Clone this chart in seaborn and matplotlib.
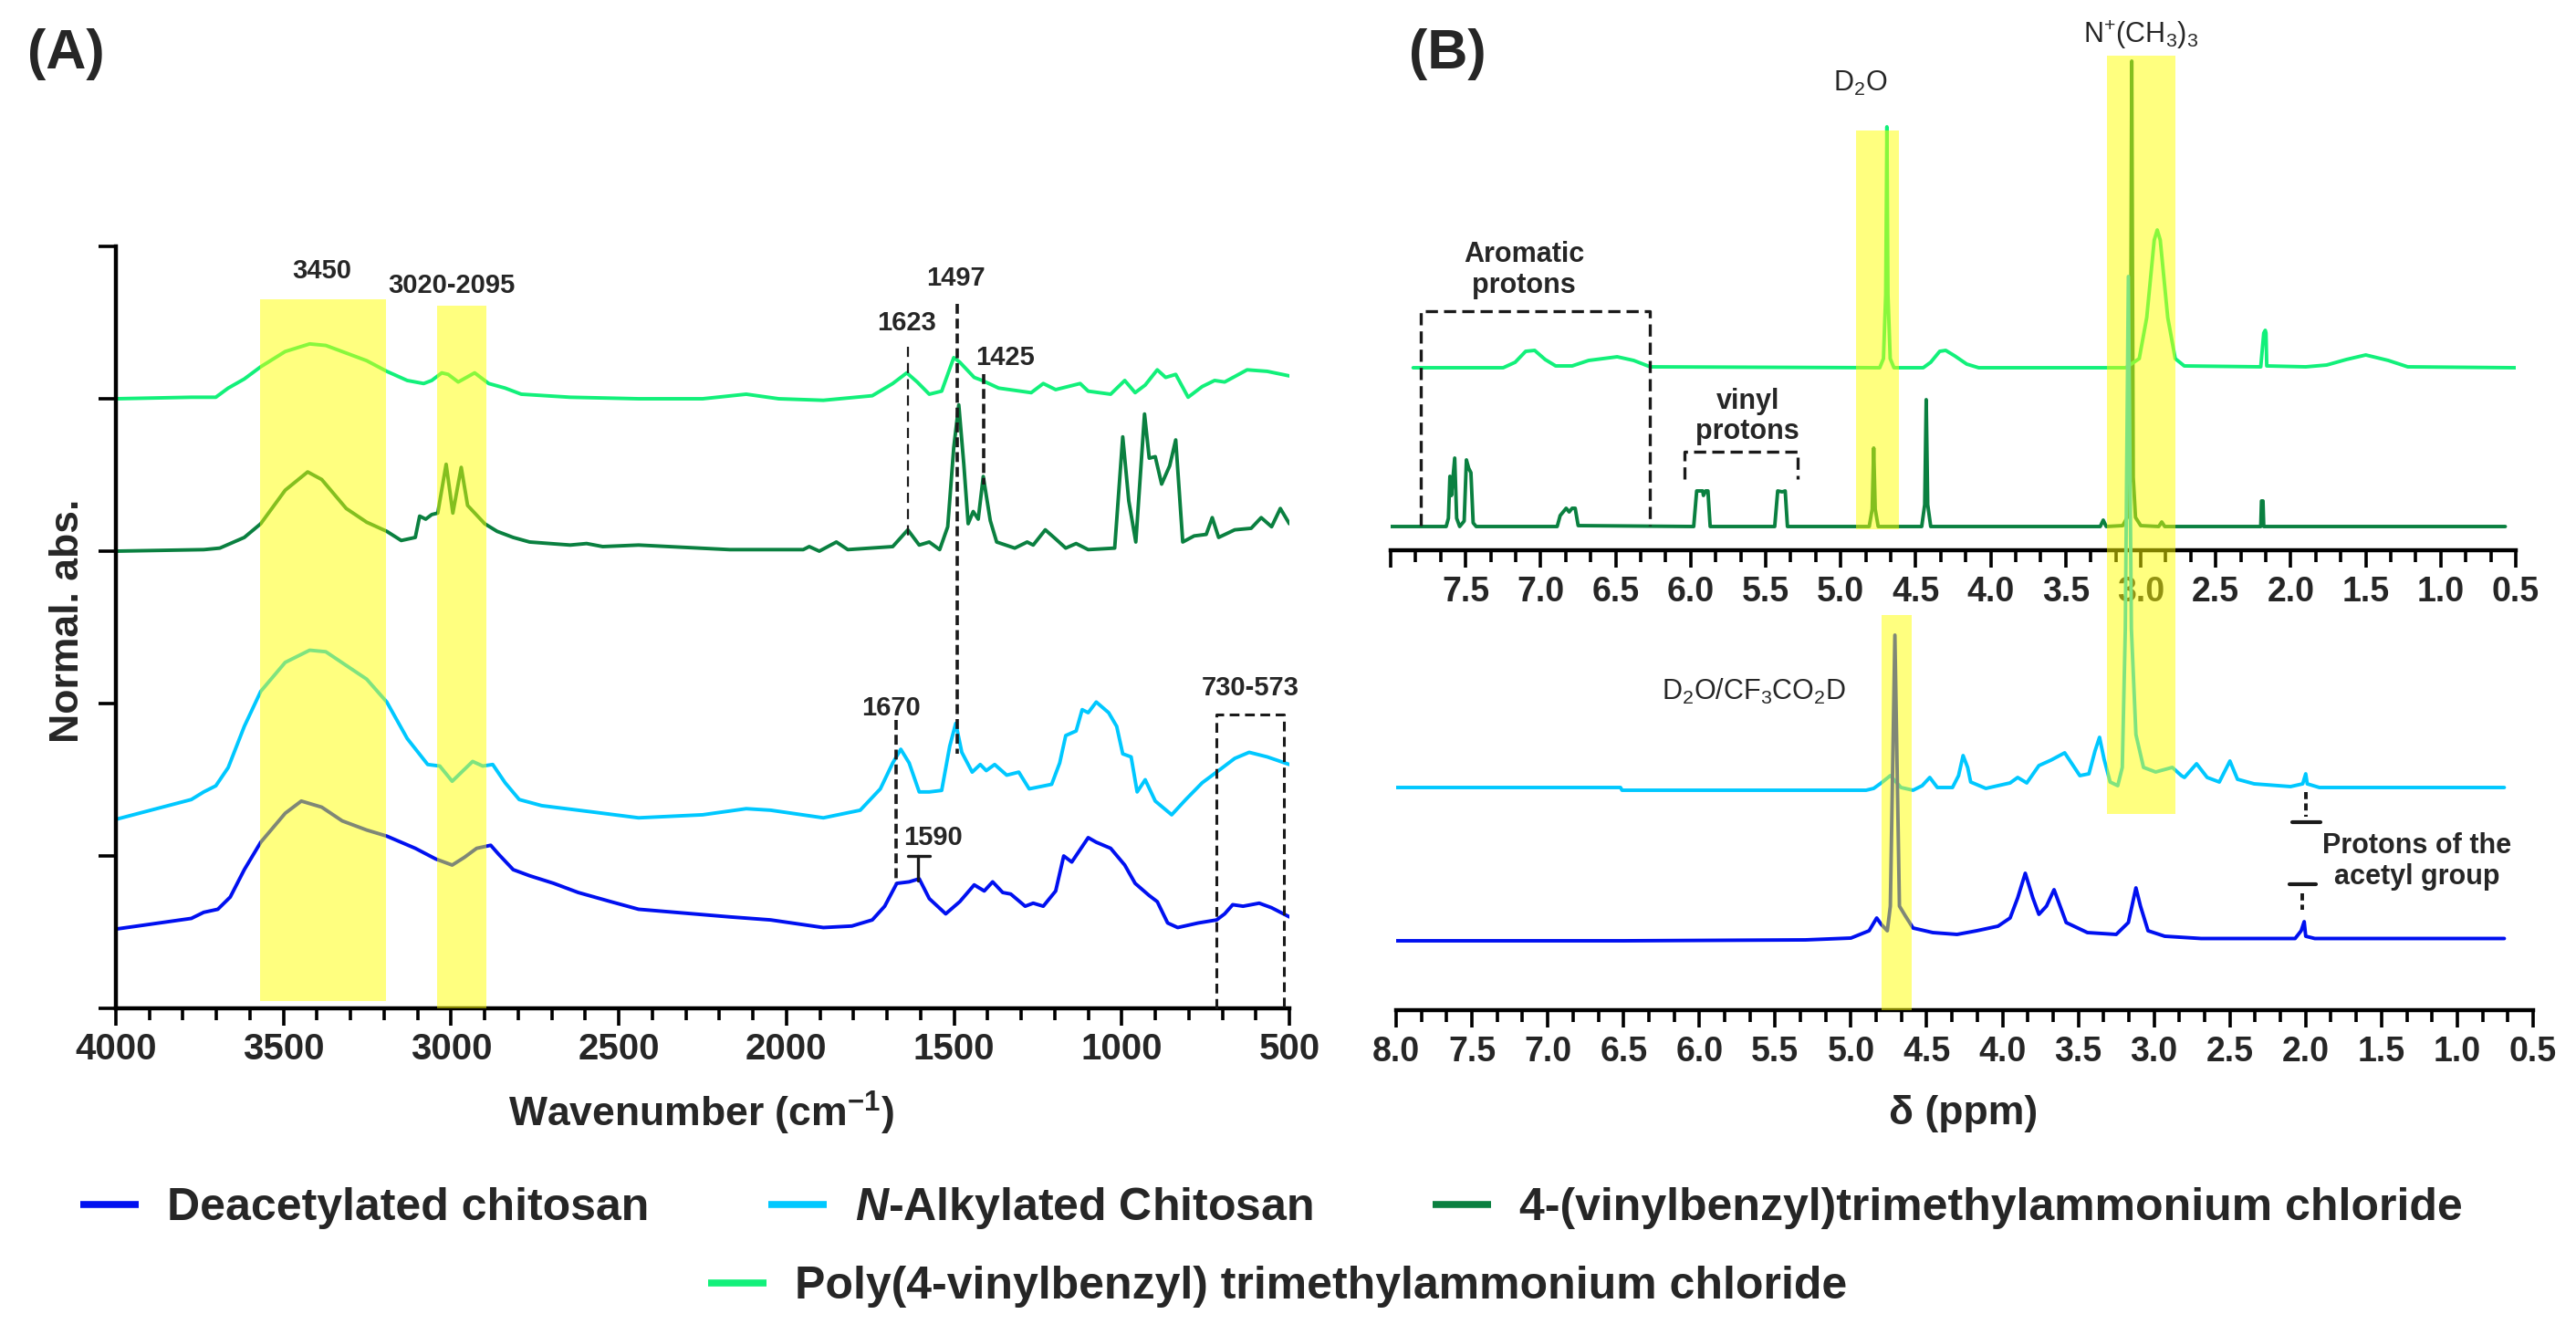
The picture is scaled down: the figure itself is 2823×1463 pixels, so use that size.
import matplotlib.pyplot as plt
from matplotlib.patches import Rectangle
from matplotlib.lines import Line2D
from matplotlib.ticker import MultipleLocator, AutoMinorLocator
import seaborn as sns

# ---------------- colours ----------------
C_DEAC = "#0010F0"   # Deacetylated chitosan
C_NALK = "#00C8FF"   # N-Alkylated chitosan
C_VBTAC = "#0A8040"  # 4-(vinylbenzyl)trimethylammonium chloride
C_POLY = "#12F07A"   # Poly(4-vinylbenzyl) trimethylammonium chloride
YELLOW = "#FFFF00"

# ---------------- (A) FTIR data (wavenumber, normalised abs. + offset) ----------------
ftir_poly_x = [4000, 3775, 3702, 3665, 3617, 3568, 3495, 3422, 3374, 3313,
               3252, 3192, 3131, 3082, 3058, 3028, 3009, 2979, 2930, 2888,
               2839, 2791, 2645, 2441, 2250, 2120, 2023, 1890, 1744, 1683,
               1641, 1610, 1574, 1537, 1501, 1483, 1440, 1416, 1367, 1270,
               1234, 1197, 1124, 1100, 1033, 991, 960, 930, 894, 869,
               839, 802, 760, 723, 693, 626, 566, 500]
ftir_poly_y = [4.00, 4.01, 4.01, 4.07, 4.13, 4.21, 4.31, 4.36, 4.35, 4.30,
               4.25, 4.18, 4.12, 4.10, 4.12, 4.17, 4.16, 4.11, 4.17, 4.10,
               4.07, 4.03, 4.01, 4.00, 4.00, 4.03, 4.00, 3.99, 4.02, 4.10,
               4.17, 4.11, 4.03, 4.05, 4.27, 4.24, 4.14, 4.12, 4.07, 4.04,
               4.10, 4.06, 4.10, 4.05, 4.03, 4.12, 4.04, 4.09, 4.19, 4.14,
               4.16, 4.01, 4.08, 4.12, 4.11, 4.19, 4.18, 4.15]

ftir_vbtac_x = [4000, 3738, 3690, 3617, 3568, 3495, 3428, 3386, 3313, 3252,
                3192, 3149, 3107, 3094, 3076, 3058, 3040, 3015, 2995, 2970,
                2951, 2900, 2863, 2815, 2766, 2645, 2596, 2548, 2441, 2169,
                1950, 1932, 1902, 1851, 1817, 1683, 1638, 1604, 1574, 1543,
                1519, 1501, 1486, 1471, 1458, 1443, 1428, 1413, 1392, 1373,
                1319, 1282, 1264, 1228, 1197, 1167, 1136, 1100, 1021, 997,
                979, 958, 932, 918, 900, 881, 857, 839, 818, 784,
                748, 730, 711, 663, 614, 584, 553, 527, 500]
ftir_vbtac_y = [3.00, 3.01, 3.02, 3.09, 3.18, 3.40, 3.52, 3.47, 3.28, 3.19,
                3.13, 3.07, 3.09, 3.23, 3.21, 3.24, 3.25, 3.57, 3.25, 3.55,
                3.30, 3.18, 3.13, 3.09, 3.06, 3.04, 3.05, 3.03, 3.04, 3.01,
                3.01, 3.03, 3.00, 3.06, 3.01, 3.03, 3.14, 3.04, 3.06, 3.01,
                3.16, 3.68, 3.96, 3.57, 3.18, 3.26, 3.21, 3.49, 3.20, 3.06,
                3.02, 3.06, 3.04, 3.14, 3.08, 3.02, 3.05, 3.01, 3.02, 3.75,
                3.33, 3.06, 3.90, 3.61, 3.62, 3.44, 3.56, 3.73, 3.06, 3.10,
                3.11, 3.22, 3.09, 3.14, 3.15, 3.22, 3.16, 3.28, 3.18]

ftir_nalk_x = [4000, 3775, 3738, 3702, 3665, 3617, 3568, 3495, 3422, 3374,
               3313, 3252, 3192, 3131, 3070, 3034, 2997, 2936, 2906, 2876,
               2839, 2797, 2730, 2584, 2441, 2250, 2120, 2047, 1890, 1780,
               1720, 1683, 1659, 1634, 1604, 1574, 1537, 1513, 1495, 1477,
               1446, 1422, 1404, 1379, 1343, 1307, 1276, 1209, 1185, 1167,
               1136, 1118, 1100, 1076, 1039, 1015, 997, 972, 954, 930,
               900, 851, 809, 760, 711, 663, 620, 566, 500]
ftir_nalk_y = [1.24, 1.37, 1.42, 1.46, 1.58, 1.85, 2.08, 2.27, 2.35, 2.34,
               2.25, 2.16, 2.01, 1.77, 1.60, 1.59, 1.49, 1.62, 1.59, 1.60,
               1.48, 1.37, 1.33, 1.29, 1.25, 1.27, 1.31, 1.30, 1.25, 1.30,
               1.44, 1.61, 1.70, 1.61, 1.42, 1.42, 1.43, 1.72, 1.87, 1.68,
               1.55, 1.60, 1.56, 1.60, 1.53, 1.55, 1.44, 1.47, 1.61, 1.79,
               1.82, 1.96, 1.94, 2.01, 1.94, 1.85, 1.67, 1.65, 1.42, 1.50,
               1.36, 1.27, 1.37, 1.48, 1.56, 1.64, 1.68, 1.65, 1.60]

ftir_deac_x = [4000, 3775, 3738, 3696, 3659, 3617, 3568, 3495, 3447, 3386,
               3325, 3252, 3192, 3107, 3046, 2997, 2961, 2924, 2882, 2858,
               2815, 2766, 2694, 2621, 2524, 2441, 2169, 2047, 1890, 1805,
               1744, 1707, 1671, 1634, 1604, 1574, 1525, 1483, 1440, 1410,
               1385, 1355, 1331, 1288, 1264, 1234, 1197, 1173, 1149, 1100,
               1076, 1033, 991, 960, 918, 894, 863, 833, 772, 717,
               693, 669, 638, 590, 553, 500]
ftir_deac_y = [0.52, 0.59, 0.63, 0.65, 0.73, 0.91, 1.09, 1.28, 1.36, 1.32,
               1.23, 1.17, 1.13, 1.05, 0.98, 0.94, 0.99, 1.05, 1.07, 1.01,
               0.91, 0.87, 0.82, 0.76, 0.70, 0.65, 0.60, 0.58, 0.53, 0.54,
               0.58, 0.67, 0.82, 0.83, 0.85, 0.72, 0.62, 0.70, 0.81, 0.77,
               0.83, 0.76, 0.75, 0.67, 0.69, 0.67, 0.77, 1.00, 0.96, 1.12,
               1.09, 1.05, 0.94, 0.82, 0.74, 0.70, 0.56, 0.53, 0.56, 0.58,
               0.62, 0.68, 0.67, 0.69, 0.66, 0.60]

ftir_ticks = [4000, 3500, 3000, 2500, 2000, 1500, 1000, 500]
ftir_tick_labels = ["4000", "3500", "3000", "2500", "2000", "1500", "1000", "500"]

# ---------------- (B) 1H NMR data (ppm, intensity + offset) ----------------
nmr_poly_x = [7.85, 7.25, 7.17, 7.10, 7.04, 6.97, 6.90, 6.79, 6.68, 6.49,
              6.38, 6.27, 4.74, 4.715, 4.70, 4.692, 4.685, 4.67, 4.645, 4.45,
              4.40, 4.34, 4.30, 4.24, 4.16, 4.08, 3.10, 3.01, 2.96, 2.91,
              2.89, 2.87, 2.82, 2.77, 2.71, 2.20, 2.18, 2.17, 2.165, 2.16,
              1.90, 1.76, 1.63, 1.50, 1.35, 1.22, 0.50]
nmr_poly_y = [20.0, 20.0, 20.6, 21.8, 21.9, 20.9, 20.2, 20.2, 20.8, 21.2,
              20.8, 20.1, 20.0, 21.0, 28.0, 46.4, 28.0, 21.0, 20.0, 20.0,
              20.6, 21.8, 21.9, 21.3, 20.4, 20.0, 20.0, 21.0, 25.5, 34.0,
              35.1, 34.0, 25.5, 21.0, 20.2, 20.1, 23.8, 24.1, 23.8, 20.2,
              20.1, 20.3, 20.9, 21.4, 20.8, 20.1, 20.0]

nmr_vbtac_x = [8.00, 7.63, 7.615, 7.605, 7.595, 7.573, 7.56, 7.54, 7.51, 7.495,
               7.48, 7.465, 7.45, 7.43, 6.89, 6.87, 6.85, 6.83, 6.81, 6.79,
               6.77, 6.75, 5.98, 5.96, 5.92, 5.915, 5.90, 5.885, 5.87, 5.44,
               5.42, 5.39, 5.37, 5.355, 4.81, 4.79, 4.78, 4.77, 4.75, 4.46,
               4.44, 4.43, 4.42, 4.40, 3.27, 3.25, 3.23, 3.12, 3.09, 3.07,
               3.06, 3.05, 3.035, 3.00, 2.88, 2.86, 2.84, 2.20, 2.195, 2.185,
               2.18, 0.57]
nmr_vbtac_y = [2.6, 2.6, 3.5, 8.1, 6.0, 10.1, 3.5, 2.6, 3.2, 9.9,
               9.0, 8.5, 3.0, 2.6, 2.6, 3.8, 4.2, 4.6, 4.2, 4.6,
               4.6, 2.7, 2.6, 6.5, 6.5, 6.0, 6.5, 6.5, 2.6, 2.6,
               6.5, 6.4, 6.5, 2.6, 2.6, 4.5, 11.2, 4.5, 2.6, 2.6,
               5.0, 16.5, 5.0, 2.6, 2.6, 3.3, 2.6, 2.7, 3.6, 8.0,
               53.6, 8.0, 3.6, 2.7, 2.6, 3.1, 2.6, 2.6, 5.4, 5.4,
               2.6, 2.6]

nmr_nalk_x = [8.00, 6.52, 6.51, 4.90, 4.85, 4.80, 4.74, 4.67, 4.59, 4.53,
              4.48, 4.43, 4.33, 4.29, 4.26, 4.23, 4.21, 4.11, 3.95, 3.90,
              3.84, 3.76, 3.68, 3.59, 3.49, 3.43, 3.39, 3.36, 3.33, 3.29,
              3.24, 3.21, 3.19, 3.17, 3.15, 3.12, 3.07, 2.99, 2.88, 2.82,
              2.80, 2.72, 2.65, 2.57, 2.50, 2.45, 2.34, 2.10, 2.02, 2.00,
              1.99, 1.91, 0.69]
nmr_nalk_y = [24.4, 24.4, 24.1, 24.1, 24.3, 24.9, 25.7, 24.4, 24.1, 24.6,
              25.5, 24.4, 24.4, 25.7, 27.9, 26.6, 25.0, 24.3, 24.9, 25.5,
              24.9, 26.8, 27.4, 28.2, 25.7, 25.9, 28.4, 29.9, 27.5, 25.0,
              24.6, 26.6, 41.8, 80.4, 41.8, 30.2, 26.6, 26.1, 26.6, 25.7,
              25.5, 27.0, 25.5, 25.0, 27.3, 25.3, 24.8, 24.5, 24.8, 25.9,
              24.8, 24.4, 24.4]

nmr_deac_x = [8.00, 6.50, 5.30, 5.00, 4.88, 4.83, 4.80, 4.76, 4.74, 4.71,
              4.68, 4.64, 4.59, 4.46, 4.30, 4.17, 4.03, 3.95, 3.90, 3.85,
              3.80, 3.76, 3.71, 3.66, 3.62, 3.58, 3.44, 3.25, 3.17, 3.12,
              3.09, 3.04, 2.93, 2.69, 2.07, 2.03, 2.01, 2.00, 1.94, 0.69]
nmr_deac_y = [7.6, 7.6, 7.7, 7.9, 8.7, 10.1, 9.4, 8.7, 11.4, 41.1,
              11.4, 10.3, 9.0, 8.5, 8.3, 8.7, 9.2, 10.1, 12.3, 15.0,
              12.3, 10.5, 11.4, 13.2, 11.4, 9.6, 8.5, 8.3, 9.6, 13.4,
              11.4, 8.7, 8.1, 7.85, 7.85, 8.7, 9.7, 8.1, 7.85, 7.85]

nmr_ticks = [8.0, 7.5, 7.0, 6.5, 6.0, 5.5, 5.0, 4.5, 4.0, 3.5, 3.0, 2.5, 2.0, 1.5, 1.0, 0.5]
nmr_bottom_labels = ["8.0", "7.5", "7.0", "6.5", "6.0", "5.5", "5.0", "4.5",
                     "4.0", "3.5", "3.0", "2.5", "2.0", "1.5", "1.0", "0.5"]
nmr_top_labels = [""] + nmr_bottom_labels[1:]

legend_labels = ["Deacetylated chitosan", "$\\mathit{N}$-Alkylated Chitosan",
                 "4-(vinylbenzyl)trimethylammonium chloride",
                 "Poly(4-vinylbenzyl) trimethylammonium chloride"]

# ---------------- style ----------------
sns.set_theme(style="white")
plt.rcParams["font.family"] = ["Liberation Sans", "DejaVu Sans"]
plt.rcParams["font.weight"] = "bold"
plt.rcParams["axes.labelweight"] = "bold"
plt.rcParams["mathtext.fontset"] = "custom"
plt.rcParams["mathtext.default"] = "regular"
plt.rcParams["mathtext.rm"] = "Liberation Sans"
plt.rcParams["mathtext.it"] = "Liberation Sans:italic:bold"
plt.rcParams["mathtext.bf"] = "Liberation Sans:bold"

W, H = 2823, 1463
fig = plt.figure(figsize=(W / 100, H / 100), dpi=100)


def px_box(x0, y0, x1, y1):
    return [x0 / W, 1 - y1 / H, (x1 - x0) / W, (y1 - y0) / H]


ax_a = fig.add_axes(px_box(127, 270, 1413, 1105))
ax_bt = fig.add_axes(px_box(1524, 20, 2757, 603))
ax_bb = fig.add_axes(px_box(1530, 20, 2776, 1107))


def style_axes(ax, show_left):
    ax.patch.set_visible(False)
    ax.spines["top"].set_visible(False)
    ax.spines["right"].set_visible(False)
    ax.spines["left"].set_visible(show_left)
    for s in ["left", "bottom"]:
        ax.spines[s].set_linewidth(3.2)
        ax.spines[s].set_color("black")
    ax.tick_params(axis="x", which="major", bottom=True, direction="out",
                   length=14, width=2.6, color="black")
    ax.tick_params(axis="x", which="minor", bottom=True, direction="out",
                   length=9, width=2.6, color="black")
    ax.grid(False)


def bold_ticklabels(ax):
    for lab in ax.get_xticklabels():
        lab.set_fontweight("bold")


LW = 2.8

# ---------------- panel A ----------------
style_axes(ax_a, True)
for xs, ys, c in [(ftir_deac_x, ftir_deac_y, C_DEAC), (ftir_nalk_x, ftir_nalk_y, C_NALK),
                  (ftir_vbtac_x, ftir_vbtac_y, C_VBTAC), (ftir_poly_x, ftir_poly_y, C_POLY)]:
    sns.lineplot(x=xs, y=ys, ax=ax_a, color=c, linewidth=LW, sort=False,
                 estimator=None, legend=False)

ax_a.set_xlim(4000, 500)
ax_a.set_ylim(0, 5)
ax_a.set_xticks(ftir_ticks, ftir_tick_labels, fontweight="bold")
ax_a.xaxis.set_minor_locator(MultipleLocator(100))
ax_a.set_yticks([0, 1, 2, 3, 4, 5], [])
ax_a.tick_params(axis="y", left=True, direction="out", length=14, width=2.6, color="black")
ax_a.tick_params(axis="x", labelsize=29, pad=5)
bold_ticklabels(ax_a)

ax_a.set_xlabel("Wavenumber (cm$^{-1}$)", fontsize=32, fontweight="bold")
ax_a.xaxis.set_label_coords(0.499, -0.1377)
ax_a.xaxis.label.set_va("center")
ax_a.set_ylabel("Normal. abs.", fontsize=32, fontweight="bold")
ax_a.yaxis.set_label_coords(-0.041, 0.509)
ax_a.yaxis.label.set_va("center")

ax_a.add_patch(Rectangle((3195, 0.05), 375, 4.60, color=YELLOW, alpha=0.5, lw=0, zorder=5))
ax_a.add_patch(Rectangle((2894, 0.0), 147, 4.61, color=YELLOW, alpha=0.5, lw=0, zorder=5))

fa = dict(fontsize=21, fontweight="bold", ha="center", va="center", zorder=7)
ax_a.text(3386, 4.84, "3450", **fa)
ax_a.text(3000, 4.74, "3020-2095", **fa)
ax_a.text(1641, 4.50, "1623", **fa)
ax_a.text(1495, 4.79, "1497", **fa)
ax_a.text(1349, 4.27, "1425", **fa)
ax_a.text(1689, 1.97, "1670", **fa)
ax_a.text(1562, 1.12, "1590", **fa)
ax_a.text(617, 2.10, "730-573", **fa)

ax_a.plot([1638, 1638], [4.34, 3.09], color="k", lw=1.6, ls=(0, (5, 3)), zorder=6)
ax_a.plot([1491, 1491], [4.62, 1.67], color="k", lw=2.6, ls=(0, (3, 1.5)), zorder=6)
ax_a.plot([1413, 1413], [4.16, 3.44], color="k", lw=2.6, ls=(0, (3, 1.5)), zorder=6)
ax_a.plot([1673, 1673], [1.89, 0.82], color="k", lw=2.6, ls=(0, (3, 1.5)), zorder=6)
ax_a.plot([1638, 1571], [1.0, 1.0], color="k", lw=2.4, zorder=6)
ax_a.plot([1608, 1608], [1.0, 0.84], color="k", lw=2.4, zorder=6)
ax_a.plot([717, 717, 517, 517], [0.0, 1.93, 1.93, 0.0], color="k", lw=2.2,
          ls=(0, (3.5, 2)), zorder=6, clip_on=False)

# ---------------- panel B top ----------------
style_axes(ax_bt, False)
sns.lineplot(x=nmr_vbtac_x, y=nmr_vbtac_y, ax=ax_bt, color=C_VBTAC, linewidth=LW,
             sort=False, estimator=None, legend=False)
sns.lineplot(x=nmr_poly_x, y=nmr_poly_y, ax=ax_bt, color=C_POLY, linewidth=LW,
             sort=False, estimator=None, legend=False)
ax_bt.set_xlim(8.0, 0.5)
ax_bt.set_ylim(0, 58.3)
ax_bt.set_yticks([])
ax_bt.set_xticks(nmr_ticks, nmr_top_labels, fontweight="bold")
ax_bt.xaxis.set_minor_locator(AutoMinorLocator(3))
ax_bt.tick_params(axis="x", labelsize=27, pad=6.5)
bold_ticklabels(ax_bt)
ax_bt.set_xlabel("")
ax_bt.set_ylabel("")

ax_bt.add_patch(Rectangle((4.61, 2.3), 0.29, 43.7, color=YELLOW, alpha=0.5, lw=0, zorder=5))
ax_bt.text(4.867, 51.2, "D$_2$O", fontsize=22, fontweight="normal", ha="center", va="center")
ax_bt.text(3.0, 56.5, "N$^{{+}}$(CH$_3$)$_3$", fontsize=22, fontweight="normal",
           ha="center", va="center")
ax_bt.text(7.11, 30.7, "Aromatic\nprotons", fontsize=22, fontweight="bold",
           ha="center", va="center", linespacing=1.15)
ax_bt.text(5.62, 14.65, "vinyl\nprotons", fontsize=22, fontweight="bold",
           ha="center", va="center", linespacing=1.15)
ax_bt.plot([7.80, 7.80, 6.27, 6.27], [2.7, 26.2, 26.2, 2.7], color="k", lw=2.4,
           ls=(0, (4, 2)), zorder=6)
ax_bt.plot([6.04, 6.04, 5.29, 5.29], [7.8, 10.8, 10.8, 7.8], color="k", lw=2.4,
           ls=(0, (4, 2)), zorder=6)

# ---------------- panel B bottom ----------------
style_axes(ax_bb, False)
sns.lineplot(x=nmr_nalk_x, y=nmr_nalk_y, ax=ax_bb, color=C_NALK, linewidth=LW,
             sort=False, estimator=None, legend=False)
sns.lineplot(x=nmr_deac_x, y=nmr_deac_y, ax=ax_bb, color=C_DEAC, linewidth=LW,
             sort=False, estimator=None, legend=False)
ax_bb.set_xlim(8.0, 0.5)
ax_bb.set_ylim(0, 108.7)
ax_bb.set_yticks([])
ax_bb.set_xticks(nmr_ticks, nmr_bottom_labels, fontweight="bold")
ax_bb.xaxis.set_minor_locator(AutoMinorLocator(3))
ax_bb.tick_params(axis="x", labelsize=27, pad=6.5)
bold_ticklabels(ax_bb)
ax_bb.set_ylabel("")
ax_bb.set_xlabel("δ (ppm)", fontsize=32, fontweight="bold")
ax_bb.xaxis.set_label_coords(0.499, -0.104)
ax_bb.xaxis.label.set_va("center")

ax_bb.add_patch(Rectangle((4.60, 0.0), 0.20, 43.3, color=YELLOW, alpha=0.5, lw=0,
                          zorder=5, clip_on=False))
ax_bb.add_patch(Rectangle((2.86, 21.5), 0.45, 83.1, color=YELLOW, alpha=0.5, lw=0,
                          zorder=5, clip_on=False))
ax_bb.text(5.637, 34.9, "D$_2$O/CF$_3$CO$_2$D", fontsize=22, fontweight="normal",
           ha="center", va="center")
ax_bb.text(1.265, 16.3, "Protons of the\nacetyl group", fontsize=22, fontweight="bold",
           ha="center", va="center", linespacing=1.15)
ax_bb.plot([2.0, 2.0], [23.9, 21.2], color="k", lw=2.8, ls=(0, (2, 1.2)))
ax_bb.plot([2.09, 1.90], [20.6, 20.6], color="k", lw=3.0)
ax_bb.plot([2.11, 1.93], [13.8, 13.8], color="k", lw=3.0)
ax_bb.plot([2.02, 2.02], [12.8, 11.0], color="k", lw=2.8, ls=(0, (2, 1.2)))

# ---------------- panel letters ----------------
fig.text(72 / W, 1 - 60 / H, "(A)", fontsize=44, fontweight="bold", ha="center", va="center")
fig.text(1586 / W, 1 - 60 / H, "(B)", fontsize=44, fontweight="bold", ha="center", va="center")

# ---------------- legend ----------------
colors = [C_DEAC, C_NALK, C_VBTAC, C_POLY]
handles = [Line2D([], [], color=c, lw=5.5, solid_capstyle="butt") for c in colors]
leg_kw = dict(loc="center", frameon=False, handlelength=1.28, handletextpad=0.62,
              columnspacing=2.62, borderpad=0, borderaxespad=0,
              prop={"size": 36, "weight": "bold"})
fig.legend(handles[:3], legend_labels[:3], ncol=3,
           bbox_to_anchor=(0.4936, 1 - 1324 / H), **leg_kw)
fig.legend(handles[3:], legend_labels[3:], ncol=1,
           bbox_to_anchor=(0.4959, 1 - 1410 / H), **leg_kw)

fig.savefig("out.png", dpi=100)
